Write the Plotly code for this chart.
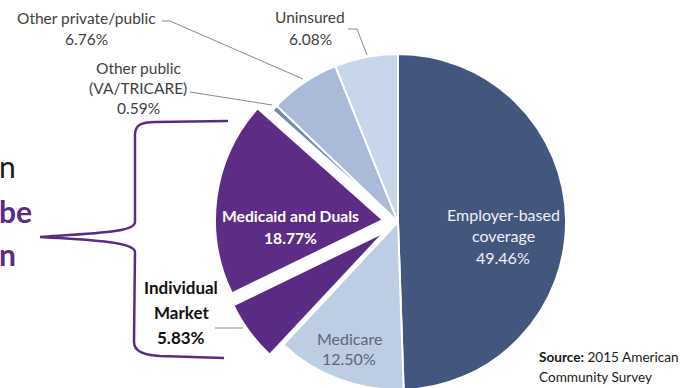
import plotly.graph_objects as go

# ---- data ----
labels = ["Employer-based coverage", "Medicare", "Individual Market", "Medicaid and Duals",
          "Other public (VA/TRICARE)", "Other private/public", "Uninsured"]
values = [49.46, 12.50, 5.83, 18.77, 0.59, 6.76, 6.08]
label_lines = [["Employer-based", "coverage"], ["Medicare"], ["Individual", "Market"],
               ["Medicaid and Duals"], ["Other public", "(VA/TRICARE)"],
               ["Other private/public"], ["Uninsured"]]
source_lines = ["<b>Source:</b> 2015 American", "Community Survey"]
slide_fragments = ["n", "be", "n"]

# ---- styles ----
W, H = 684, 410
colors = ["#43567e", "#bdcde3", "#5a2b82", "#5d2d85", "#7089b5", "#a9bbd8", "#c7d6eb"]
pulls = [0, 0, 0.1, 0.09, 0, 0, 0]
CX, CY, R = 398, 222, 168
box = 2 * R * (1 + max(pulls))
dom_x = [(CX - box / 2) / W, (CX + box / 2) / W]
dom_y = [1 - (CY + box / 2) / H, 1 - (CY - box / 2) / H]

FONT = "Lato"
# per-slice label style: (x centre, first line y, line spacing, colour, bold, size)
lab_style = [
    (503, 214, 21.5, "#eef1f7", False, 16),
    (349, 338, 20.5, "#5f6775", False, 16),
    (181, 287, 25, "#111111", True, 17),
    (290, 216, 22, "#ffffff", True, 15.7),
    (138, 68, 20, "#404040", False, 15.5),
    (86, 18, 20.5, "#404040", False, 15.5),
    (310, 17, 22, "#404040", False, 15.5),
]

fig = go.Figure()

fig.add_trace(go.Pie(
    labels=labels, values=values, sort=False, direction="clockwise", rotation=0,
    marker=dict(colors=colors, line=dict(color="white", width=2)),
    pull=pulls, textinfo="none", hoverinfo="skip", showlegend=False,
    domain=dict(x=dom_x, y=dom_y),
))

# leader lines (pixel coordinates on hidden axes)
lx = [162, 170, 303, None, 348, 357, 367, None, 190, 272, None, 215, 243]
ly = [21, 21, 79, None, 29, 29, 55, None, 92, 105, None, 328, 328]
fig.add_trace(go.Scatter(x=lx, y=ly, mode="lines", line=dict(color="#8a8a8a", width=1),
                         hoverinfo="skip", showlegend=False))

annotations = []
for lines, v, st in zip(label_lines, values, lab_style):
    x, y0, dy, col, bold, size = st
    for i, t in enumerate(lines + [f"{v:.2f}%"]):
        txt = f"<b>{t}</b>" if bold else t
        annotations.append(dict(x=x, y=y0 + i * dy, xref="x", yref="y", text=txt,
                                showarrow=False, xanchor="center", yanchor="middle",
                                font=dict(family=FONT, size=size, color=col)))
for i, t in enumerate(source_lines):
    annotations.append(dict(x=537, y=357 + i * 20, xref="x", yref="y", text=t,
                            showarrow=False, xanchor="left", yanchor="middle",
                            font=dict(family=FONT, size=13.6, color="#1a1a1a")))
frag_style = [(-3, 166, "#1a1a1a", False), (-3, 211, "#5b2a86", True), (-3, 254, "#5b2a86", True)]
for t, (x, y, col, bold) in zip(slide_fragments, frag_style):
    annotations.append(dict(x=x / W, y=1 - y / H, xref="paper", yref="paper",
                            text=f"<b>{t}</b>" if bold else t,
                            showarrow=False, xanchor="left", yanchor="middle",
                            font=dict(family=FONT, size=30, color=col)))

brace = ("M 228 121 L 155 122 C 141 122 135 125 135 135 L 135 222 "
         "C 135 232 100 233 40 237 C 100 240 135 243 135 252 "
         "L 134 342 C 134 352 145 355 160 356 L 224 358")

fig.update_layout(
    width=W, height=H, margin=dict(l=0, r=0, t=0, b=0),
    paper_bgcolor="white", plot_bgcolor="rgba(0,0,0,0)",
    xaxis=dict(range=[0, W], visible=False, fixedrange=True),
    yaxis=dict(range=[H, 0], visible=False, fixedrange=True),
    annotations=annotations,
    shapes=[dict(type="path", path=brace, xref="x", yref="y",
                 line=dict(color="#5b2a86", width=2.5))],
    showlegend=False,
)

fig.write_html("out.html")
